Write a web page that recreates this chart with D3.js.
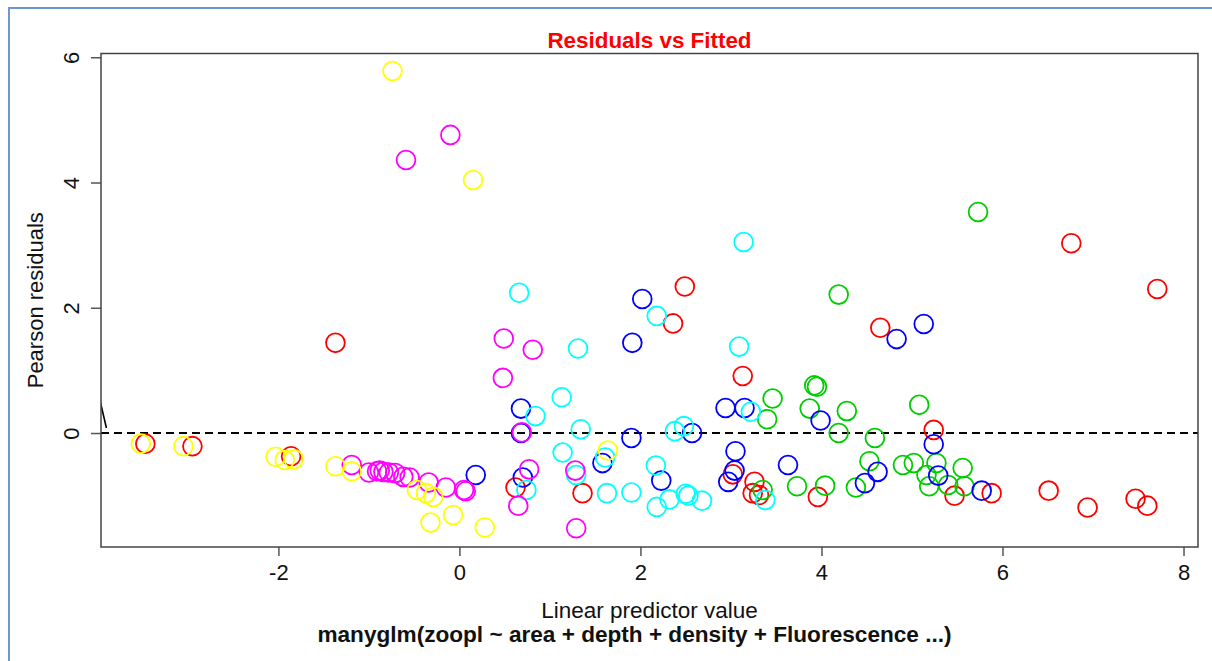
<!DOCTYPE html>
<html>
<head>
<meta charset="utf-8">
<script src="https://cdn.jsdelivr.net/npm/d3@7"></script>
<style>
  body { margin: 0; background: #fff; }
  text { font-family: "Liberation Sans", Arial, sans-serif; }
</style>
</head>
<body>
<div id="chart"></div>
<script>
// [fitted, pearson residual] pairs, one array per species colour
var pts_red = [[-3.47,-0.17],[-2.95,-0.21],[-1.86,-0.37],[-1.37,1.44],[0.62,-0.87],[1.36,-0.96],[2.36,1.75],[2.49,2.34],
  [3.02,-0.66],[3.13,0.91],[3.26,-0.78],[3.24,-0.96],[3.31,-0.99],[3.96,-1.02],[4.65,1.68],[5.24,0.05],[5.47,-1.00],
  [5.88,-0.96],[6.51,-0.92],[6.76,3.03],[6.94,-1.19],[7.47,-1.05],[7.60,-1.16],[7.71,2.30]]
var pts_yellow = [[-3.52,-0.17],[-3.05,-0.21],[-2.03,-0.38],[-1.93,-0.43],[-1.83,-0.42],[-1.37,-0.53],[-1.19,-0.61],
  [-0.74,5.78],[-0.47,-0.91],[-0.37,-0.96],[-0.29,-1.02],[-0.32,-1.43],[-0.07,-1.31],[0.15,4.04],[0.28,-1.51],[1.64,-0.28]]
var pts_magenta = [[-1.19,-0.51],[-1.00,-0.63],[-0.91,-0.61],[-0.88,-0.60],[-0.84,-0.62],[-0.78,-0.63],[-0.71,-0.64],
  [-0.62,-0.70],[-0.55,-0.71],[-0.34,-0.79],[-0.15,-0.87],[0.05,-0.91],[0.07,-0.93],[-0.59,4.36],[-0.10,4.76],
  [0.48,0.88],[0.49,1.51],[0.81,1.33],[0.69,0.01],[0.77,-0.58],[0.65,-1.16],[1.28,-0.60],[1.29,-1.52]]
var pts_blue = [[0.18,-0.67],[0.68,0.39],[0.68,0.00],[0.70,-0.71],[1.58,-0.48],[1.90,-0.08],[1.91,1.44],[2.02,2.14],
  [2.23,-0.76],[2.57,0.00],[2.94,0.40],[3.15,0.40],[3.05,-0.29],[3.04,-0.60],[2.97,-0.78],[3.63,-0.51],[3.99,0.20],
  [4.48,-0.80],[4.62,-0.62],[4.83,1.50],[5.13,1.74],[5.24,-0.18],[5.29,-0.68],[5.77,-0.92]]
var pts_cyan = [[0.66,2.24],[0.84,0.27],[0.74,-0.91],[1.13,0.57],[1.14,-0.31],[1.31,1.35],[1.34,0.06],[1.29,-0.67],
  [1.61,-0.39],[1.63,-0.96],[1.90,-0.95],[2.17,-0.52],[2.18,1.87],[2.18,-1.18],[2.32,-1.06],[2.38,0.03],[2.48,0.11],
  [2.50,-0.97],[2.53,-1.00],[2.68,-1.08],[3.09,1.38],[3.14,3.05],[3.22,0.34],[3.38,-1.07]]
var pts_green = [[3.35,-0.91],[3.40,0.22],[3.46,0.55],[3.73,-0.85],[3.87,0.39],[3.92,0.76],[3.95,0.74],[4.04,-0.84],
  [4.19,2.21],[4.19,0.00],[4.28,0.35],[4.38,-0.87],[4.53,-0.45],[4.59,-0.08],[4.90,-0.51],[5.02,-0.48],[5.08,0.45],
  [5.16,-0.67],[5.19,-0.85],[5.27,-0.48],[5.40,-0.83],[5.56,-0.56],[5.58,-0.85],[5.73,3.53]]

// stray smoother piece at the left edge
var smooth_line = [[-4.00,0.70],[-3.90,0.08]]

var x_ticks = [-2, 0, 2, 4, 6, 8]
var y_ticks = [0, 2, 4, 6]

var series = [
  {pts: pts_red, col: "#ff0000"},
  {pts: pts_green, col: "#00cd00"},
  {pts: pts_blue, col: "#0000ff"},
  {pts: pts_cyan, col: "#00ffff"},
  {pts: pts_magenta, col: "#ff00ff"},
  {pts: pts_yellow, col: "#ffff00"}
]

var width = 1212,
    height = 661,
    pLeft = 101, pRight = 1198, pTop = 53.5, pBottom = 547

var svg = d3.select("#chart")
            .append("svg")
            .attr("width", width)
            .attr("height", height)

// page frame
svg.append("rect")
   .attr("x", 9).attr("y", 8)
   .attr("width", 1230).attr("height", 700)
   .attr("fill", "none")
   .attr("stroke", "#6d97d2")
   .attr("stroke-width", 2)

var x = d3.scaleLinear().domain([-3.96, 8.16]).range([pLeft, pRight])
var y = d3.scaleLinear().domain([-1.82, 6.06]).range([pBottom, pTop])

svg.append("clipPath").attr("id", "clip")
   .append("rect")
   .attr("x", pLeft).attr("y", pTop)
   .attr("width", pRight - pLeft).attr("height", pBottom - pTop)

var fmt = function(d) { return String(d) }

var xAxis = svg.append("g")
   .attr("transform", "translate(0," + pBottom + ")")
   .call(d3.axisBottom(x).tickValues(x_ticks).tickFormat(fmt).tickSize(9).tickPadding(8))
var yAxis = svg.append("g")
   .attr("transform", "translate(" + pLeft + ",0)")
   .call(d3.axisLeft(y).tickValues(y_ticks).tickFormat(fmt).tickSize(10).tickPadding(6))

svg.selectAll(".domain").remove()
svg.selectAll(".tick line").attr("stroke", "#555").attr("stroke-width", 1.5)
svg.selectAll(".tick text")
   .attr("font-family", "Liberation Sans, Arial, sans-serif")
   .attr("font-size", "22px")
   .attr("fill", "#111")

yAxis.selectAll(".tick text")
   .attr("x", 0)
   .attr("y", 0)
   .attr("text-anchor", "middle")
   .attr("transform", "translate(-30,0) rotate(-90)")
   .attr("dy", "0.36em")

var plot = svg.append("g").attr("clip-path", "url(#clip)")

plot.append("line")
    .attr("x1", x(-3.96)).attr("x2", x(8.16))
    .attr("y1", y(0)).attr("y2", y(0))
    .attr("stroke", "#000")
    .attr("stroke-width", 2)
    .attr("stroke-dasharray", "8,5")

plot.append("path")
    .datum(smooth_line)
    .attr("d", d3.line().x(function(d) { return x(d[0]) }).y(function(d) { return y(d[1]) }))
    .attr("fill", "none")
    .attr("stroke", "#000")
    .attr("stroke-width", 1.6)

series.forEach(function(s) {
  plot.selectAll(null)
      .data(s.pts)
      .enter().append("circle")
      .attr("cx", function(d) { return x(d[0]) })
      .attr("cy", function(d) { return y(d[1]) })
      .attr("r", 9.4)
      .attr("fill", "none")
      .attr("stroke", s.col)
      .attr("stroke-width", 1.8)
})

// plot box
svg.append("rect")
   .attr("x", pLeft).attr("y", pTop)
   .attr("width", pRight - pLeft).attr("height", pBottom - pTop)
   .attr("fill", "none")
   .attr("stroke", "#444")
   .attr("stroke-width", 1.5)

svg.append("text")
   .attr("x", (pLeft + pRight) / 2).attr("y", 48)
   .attr("text-anchor", "middle")
   .attr("font-size", "22.4px")
   .attr("font-weight", "bold")
   .attr("fill", "#ff0000")
   .text("Residuals vs Fitted")

svg.append("text")
   .attr("x", (pLeft + pRight) / 2).attr("y", 618)
   .attr("text-anchor", "middle")
   .attr("font-size", "22.5px")
   .attr("fill", "#111")
   .text("Linear predictor value")

svg.append("text")
   .attr("x", (pLeft + pRight) / 2 - 15).attr("y", 642)
   .attr("text-anchor", "middle")
   .attr("font-size", "22.6px")
   .attr("font-weight", "bold")
   .attr("fill", "#111")
   .text("manyglm(zoopl ~ area + depth + density + Fluorescence ...)")

svg.append("text")
   .attr("transform", "translate(43," + (pTop + pBottom) / 2 + ") rotate(-90)")
   .attr("text-anchor", "middle")
   .attr("font-size", "22px")
   .attr("fill", "#111")
   .text("Pearson residuals")
</script>
</body>
</html>
